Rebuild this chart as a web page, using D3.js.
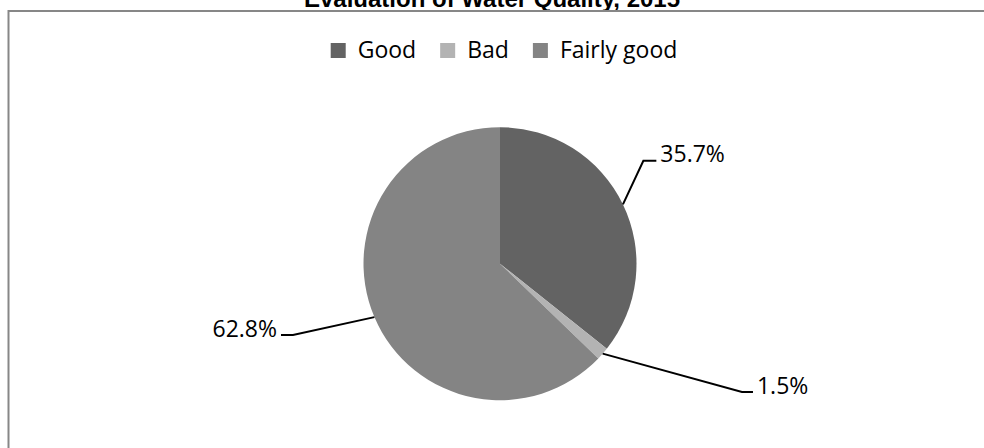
<!DOCTYPE html>
<html lang="en">
  <head>
    <meta charset="UTF-8" />
    <title>Evaluation of Water Quality, 2015</title>
    <script src="https://d3js.org/d3.v7.min.js"></script>
    <style>
      body { margin: 0; background: #fff; }
      svg { display: block; }
      .lbl { font-family: 'Open Sans', sans-serif; font-size: 23px; fill: #000; }
    </style>
  </head>
  <body>
    <div id="chart"></div>
    <script>
      // data
      const categories = ['Good', 'Bad', 'Fairly good'];
      const shares = [35.7, 1.5, 62.8];
      const colors = ['#636363', '#b3b3b3', '#848484'];

      const W = 984, H = 448;
      const cx = 500, cy = 263.7, r = 136.5;

      // leader elbow offsets from the slice edge, and length of the short flat bit
      const leaders = [
        { dx: 20.4, dy: -43.7, flat: 13 },
        { dx: 139.3, dy: 38.4, flat: 11 },
        { dx: -81.4, dy: 17.9, flat: -12 },
      ];

      const svg = d3.select('#chart').append('svg')
        .attr('width', W).attr('height', H);

      // title, clipped at the top like the original
      svg.append('text')
        .attr('x', 492).attr('y', 7)
        .attr('text-anchor', 'middle')
        .style('font-family', 'Liberation Sans, Arial, sans-serif')
        .style('font-weight', 'bold')
        .style('font-size', '24px')
        .text('Evaluation of Water Quality, 2015');

      // chart frame (runs off the right/bottom edges)
      svg.append('rect')
        .attr('x', 8.5).attr('y', 11)
        .attr('width', 1000).attr('height', 500)
        .attr('fill', 'none')
        .attr('stroke', '#878787')
        .attr('stroke-width', 2);

      // legend
      const legend = svg.append('g');
      let lx = 0;
      categories.forEach((c, i) => {
        const g = legend.append('g').attr('transform', `translate(${lx},0)`);
        g.append('rect')
          .attr('x', 0).attr('y', 43)
          .attr('width', 15).attr('height', 15)
          .attr('fill', colors[i]);
        const t = g.append('text')
          .attr('class', 'lbl')
          .attr('x', 27).attr('y', 58)
          .text(c);
        lx += 27 + t.node().getComputedTextLength() + 24;
      });
      const legW = lx - 24;
      legend.attr('transform', `translate(${504 - legW / 2},0)`);

      // pie
      const pie = d3.pie().sort(null).value(d => d);
      const arcs = pie(shares);
      const arc = d3.arc().innerRadius(0).outerRadius(r);

      const g = svg.append('g').attr('transform', `translate(${cx},${cy})`);
      g.selectAll('path.slice')
        .data(arcs)
        .enter()
        .append('path')
        .attr('class', 'slice')
        .attr('d', arc)
        .attr('fill', (d, i) => colors[i]);

      // leader lines and labels
      arcs.forEach((d, i) => {
        const a = (d.startAngle + d.endAngle) / 2;
        const x0 = Math.sin(a) * r, y0 = -Math.cos(a) * r;
        const L = leaders[i];
        const x1 = x0 + L.dx, y1 = y0 + L.dy;
        const x2 = x1 + L.flat;
        g.append('polyline')
          .attr('points', `${x0},${y0} ${x1},${y1} ${x2},${y1}`)
          .attr('fill', 'none')
          .attr('stroke', '#000')
          .attr('stroke-width', 2);
        const right = L.flat > 0;
        g.append('text')
          .attr('class', 'lbl')
          .attr('x', right ? x2 + 4 : x2 - 4)
          .attr('y', y1 + 1.5)
          .attr('text-anchor', right ? 'start' : 'end')
          .text(shares[i].toFixed(1) + '%');
      });
    </script>
  </body>
</html>
